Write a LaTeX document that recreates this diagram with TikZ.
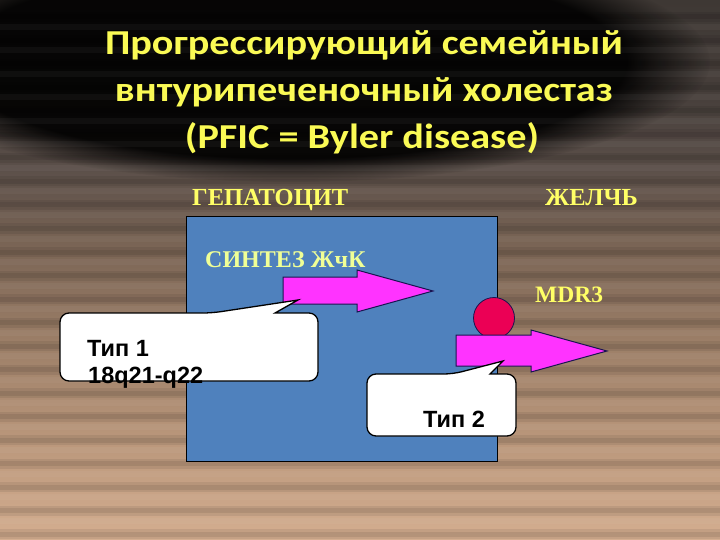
\documentclass[tikz,border=0pt]{standalone}
\usepackage{fontspec}
\setmainfont{Liberation Serif}
\newfontfamily\titlefont{Carlito}
\newfontfamily\arialfont{Liberation Sans}
\usetikzlibrary{fadings}
\definecolor{bgA}{RGB}{212,174,144}
\definecolor{bgB}{RGB}{186,151,123}
\definecolor{bgC}{RGB}{155,126,103}
\definecolor{bgD}{RGB}{120,99,84}
\definecolor{bgE}{RGB}{92,80,74}
\definecolor{bgF}{RGB}{72,64,60}
\definecolor{bgG}{RGB}{62,56,52}
\definecolor{ttl}{RGB}{250,250,85}
\definecolor{lbl}{RGB}{255,255,102}
\definecolor{syn}{RGB}{240,255,150}
\definecolor{cellblue}{RGB}{79,129,189}
\definecolor{mag}{RGB}{255,51,255}
\definecolor{navy}{RGB}{25,20,80}
\definecolor{crim}{RGB}{235,0,85}
\pgfdeclareverticalshading{bgshade}{100bp}{color(0bp)=(bgA); color(25bp)=(bgA); color(34.26bp)=(bgB); color(43.52bp)=(bgC); color(52.78bp)=(bgD); color(59.26bp)=(bgE); color(65.74bp)=(bgF); color(75bp)=(bgG); color(100bp)=(bgG)}
\begin{document}
\begin{tikzpicture}[x=1pt,y=-1pt,
  titlestyle/.style={text=ttl,font=\titlefont\bfseries\fontsize{35}{40}\selectfont,anchor=base,xscale=1.15},
  lblstyle/.style={text=lbl,font=\bfseries\fontsize{24.5}{28}\selectfont,anchor=base west,inner sep=0},
  synstyle/.style={text=syn,font=\bfseries\fontsize{24}{28}\selectfont,anchor=base west,inner sep=0},
  blockarrow/.style={fill=mag,draw=navy,line width=1pt,line join=miter},
  callout/.style={fill=white,draw=black,line width=1.3pt},
  typtext/.style={text=black,font=\arialfont\bfseries\fontsize{23.5}{28}\selectfont,anchor=base west,inner sep=0}]
\useasboundingbox (0,0) rectangle (720,540);
% background
\shade[shading=bgshade] (0,0) rectangle (720,540);
\fill[black,opacity=0.9,path fading=circle with fuzzy edge 20 percent] (290,62) ellipse (420 and 120);
\foreach \yy in {0,1,...,22}{
  \fill[black,opacity=0.07] (0,17+23.5*\yy-5) rectangle (720,17+23.5*\yy+5);
  \fill[black,opacity=0.08] (0,17+23.5*\yy-2.5) rectangle (720,17+23.5*\yy+2.5);
  \fill[white,opacity=0.04] (0,17+23.5*\yy+7) rectangle (720,17+23.5*\yy+13);
}
% title
\node[titlestyle] (t1) at (364,55) {Прогрессирующий семейный};
\node[titlestyle] (t2) at (364,102) {внтурипеченочный холестаз};
\node[titlestyle] (t3) at (362,149) {(PFIC = Byler disease)};
% labels
\node[lblstyle] (hep) at (192,206) {ГЕПАТОЦИТ};
\node[lblstyle] (bile) at (545,206) {ЖЕЛЧЬ};
% cell
\node[draw=black,line width=0.8pt,fill=cellblue,minimum width=311pt,minimum height=245pt,inner sep=0,anchor=north west] (cell) at (186,216) {};
\node[synstyle] (syn) at (205,267) {СИНТЕЗ ЖчК};
% arrow 1
\draw[blockarrow] (283,277) -- (357,277) -- (357,270) -- (433,291) -- (357,312) -- (357,304) -- (283,304) -- cycle;
% MDR3
\node[lblstyle,font=\bfseries\fontsize{23.5}{28}\selectfont] (mdrl) at (535,302) {MDR3};
\node[circle,fill=crim,draw=navy,line width=0.8pt,minimum size=41pt,inner sep=0] (mdr) at (494,318) {};
% arrow 2
\draw[blockarrow] (456,335) -- (531,335) -- (531,330) -- (607,351) -- (531,372) -- (531,366) -- (456,366) -- cycle;
% callout 1
\draw[callout] (60,347) [rounded corners=9pt] -- (60,313) -- (212,313) [sharp corners] -- (298,300) -- (275,313) [rounded corners=9pt] -- (318,313) -- (318,381) -- (60,381) -- cycle;
\node[typtext] (c1a) at (87,356) {Тип 1};
\node[typtext] (c1b) at (88,383) {18q21-q22};
% callout 2
\draw[callout] (367,405) [rounded corners=9pt] -- (367,374) -- (453,374) [sharp corners] -- (503,361) -- (490,374) [rounded corners=9pt] -- (516,374) -- (516,436) -- (367,436) -- cycle;
\node[typtext] (c2) at (423,427) {Тип 2};
\end{tikzpicture}
\end{document}
